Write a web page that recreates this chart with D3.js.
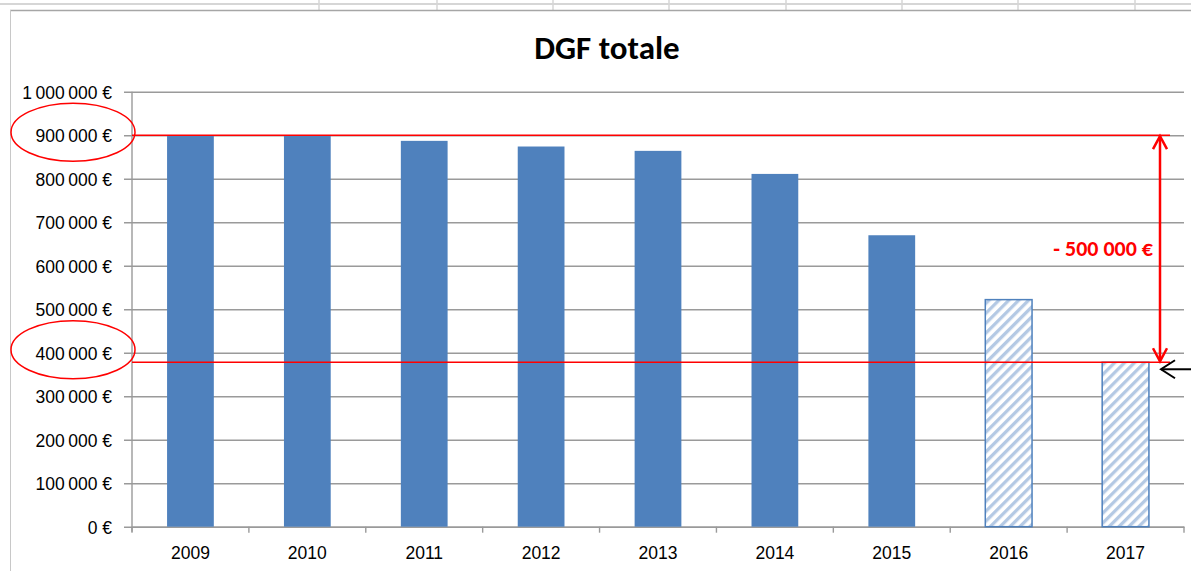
<!doctype html>
<html>
  <head>
    <meta charset="utf-8">
    <title>DGF totale</title>
    <script src="https://cdn.jsdelivr.net/npm/d3@7"></script>
    <style>
      body { margin: 0; background: #fff; }
      svg { display: block; font-family: Carlito, Lato, "Open Sans", sans-serif; }
      .grid line { stroke: #9a9a9a; stroke-width: 1.4; }
      .axis text { fill: #000; font-size: 17.5px; }
      .title { font-size: 33px; font-weight: bold; }
    </style>
  </head>
  <body>
    <div id="chart"></div>
    <script>
      // data
      var years = ["2009", "2010", "2011", "2012", "2013", "2014", "2015", "2016", "2017"];
      var dgf = [900000, 899000, 887000, 874000, 864000, 811000, 670000, 522000, 378000];
      var forecast = ["2016", "2017"];
      var refLines = [900000, 378000];
      var gapLabel = "- 500 000 €";
      var yTicks = [0, 100000, 200000, 300000, 400000, 500000, 600000, 700000, 800000, 900000, 1000000];
      var cellLines = [319, 437, 553, 669, 786, 902, 1018, 1135];

      var width = 1191, height = 571;
      var plotLeft = 132, plotRight = 1184, plotTop = 91.7, plotBottom = 526.7;

      var fr = d3.formatLocale({decimal: ",", thousands: "\u202f", grouping: [3], currency: ["", " €"]});
      var fmt = fr.format("$,.0f");

      var svg = d3.select("#chart").append("svg")
        .attr("width", width)
        .attr("height", height);

      // hatch for forecast years
      var defs = svg.append("defs");
      var pat = defs.append("pattern")
        .attr("id", "hatch")
        .attr("patternUnits", "userSpaceOnUse")
        .attr("width", 7)
        .attr("height", 7)
        .attr("patternTransform", "rotate(45)");
      pat.append("rect").attr("width", 7).attr("height", 7).attr("fill", "#fff");
      pat.append("rect").attr("width", 3.3).attr("height", 7).attr("fill", "#b4c9e4");

      // spreadsheet behind the chart
      svg.append("line").attr("x1", 0).attr("x2", width).attr("y1", 4).attr("y2", 4)
        .attr("stroke", "#d6d6d6").attr("stroke-width", 2);
      svg.selectAll(".cell").data(cellLines).enter().append("line")
        .attr("x1", function(d) { return d; }).attr("x2", function(d) { return d; })
        .attr("y1", 0).attr("y2", 10)
        .attr("stroke", "#d6d6d6").attr("stroke-width", 1.5);
      svg.append("line").attr("x1", 10).attr("x2", width).attr("y1", 10.5).attr("y2", 10.5)
        .attr("stroke", "#a6a6a6").attr("stroke-width", 1.5);
      svg.append("line").attr("x1", 10.5).attr("x2", 10.5).attr("y1", 10).attr("y2", height)
        .attr("stroke", "#c8c8c8").attr("stroke-width", 1);

      var x = d3.scaleBand().domain(years).range([plotLeft, plotRight]).paddingInner(0.6).paddingOuter(0.3);
      var y = d3.scaleLinear().domain([0, 1000000]).range([plotBottom, plotTop]);

      // gridlines + y axis labels
      var yAxis = d3.axisLeft(y).tickValues(yTicks).tickFormat(fmt)
        .tickSize(-(plotRight - plotLeft)).tickPadding(12);
      var gy = svg.append("g").attr("class", "axis grid")
        .attr("transform", "translate(" + plotLeft + ",0)")
        .call(yAxis);
      gy.select(".domain").remove();
      gy.selectAll(".tick line").attr("x1", -8).attr("x2", plotRight - plotLeft);
      gy.selectAll(".tick text").attr("x", -20).attr("dy", "0.36em");

      // y axis line
      svg.append("line").attr("x1", plotLeft).attr("x2", plotLeft).attr("y1", plotTop).attr("y2", plotBottom + 5)
        .attr("stroke", "#9a9a9a").attr("stroke-width", 1.4);

      // x axis with ticks at category boundaries
      var gx = svg.append("g").attr("class", "axis")
        .attr("transform", "translate(0," + plotBottom + ")")
        .call(d3.axisBottom(x).tickSize(0).tickPadding(20));
      gx.select(".domain").attr("stroke", "#9a9a9a").attr("stroke-width", 1.4);
      gx.selectAll(".bound").data(d3.range(years.length + 1)).enter().append("line")
        .attr("x1", function(i) { return plotLeft + i * x.step(); })
        .attr("x2", function(i) { return plotLeft + i * x.step(); })
        .attr("y1", 0).attr("y2", 6)
        .attr("stroke", "#9a9a9a").attr("stroke-width", 1.4);

      // bars
      svg.append("g").selectAll("rect").data(years).enter().append("rect")
        .attr("x", function(d) { return x(d); })
        .attr("y", function(d, i) { return y(dgf[i]); })
        .attr("width", x.bandwidth())
        .attr("height", function(d, i) { return plotBottom - y(dgf[i]); })
        .attr("fill", function(d) { return forecast.indexOf(d) >= 0 ? "url(#hatch)" : "#4f81bd"; })
        .attr("stroke", function(d) { return forecast.indexOf(d) >= 0 ? "#4f81bd" : "none"; })
        .attr("stroke-width", 1.5);

      // reference lines
      svg.append("g").selectAll("line").data(refLines).enter().append("line")
        .attr("x1", plotLeft).attr("x2", 1170)
        .attr("y1", function(d) { return y(d); }).attr("y2", function(d) { return y(d); })
        .attr("stroke", "#ff0000").attr("stroke-width", 1.5);

      // red circles round the matching axis labels
      svg.append("g").selectAll("ellipse").data([900000, 400000]).enter().append("ellipse")
        .attr("cx", 73).attr("cy", function(d) { return y(d) - 3; })
        .attr("rx", 62).attr("ry", 29)
        .attr("fill", "none").attr("stroke", "#ff0000").attr("stroke-width", 1.5);

      // double arrow between the two levels
      var ax = 1160, ya = y(refLines[0]), yb = y(refLines[1]);
      var ann = svg.append("g").attr("fill", "none").attr("stroke", "#ff0000").attr("stroke-width", 2.5);
      ann.append("line").attr("x1", ax).attr("x2", ax).attr("y1", ya + 1).attr("y2", yb - 1);
      ann.append("path").attr("d", "M" + (ax - 7) + "," + (ya + 14) + "L" + ax + "," + (ya + 1) + "L" + (ax + 7) + "," + (ya + 14));
      ann.append("path").attr("d", "M" + (ax - 7) + "," + (yb - 14) + "L" + ax + "," + (yb - 1) + "L" + (ax + 7) + "," + (yb - 14));

      svg.append("text")
        .attr("x", 1153).attr("y", (ya + yb) / 2 + 7)
        .attr("text-anchor", "end")
        .attr("fill", "#ff0000")
        .attr("font-size", 22).attr("font-weight", "bold")
        .text(gapLabel);

      // black arrow pointing at the 2017 level
      var ba = svg.append("g").attr("fill", "none").attr("stroke", "#000").attr("stroke-width", 2);
      ba.append("line").attr("x1", ax + 1).attr("x2", width).attr("y1", yb + 7).attr("y2", yb + 7);
      ba.append("path").attr("d", "M" + (ax + 15) + "," + (yb - 2) + "L" + (ax + 1) + "," + (yb + 7) + "L" + (ax + 15) + "," + (yb + 16));

      svg.append("text").attr("class", "title")
        .attr("x", 607).attr("y", 59)
        .attr("text-anchor", "middle")
        .text("DGF totale");
    </script>
  </body>
</html>
